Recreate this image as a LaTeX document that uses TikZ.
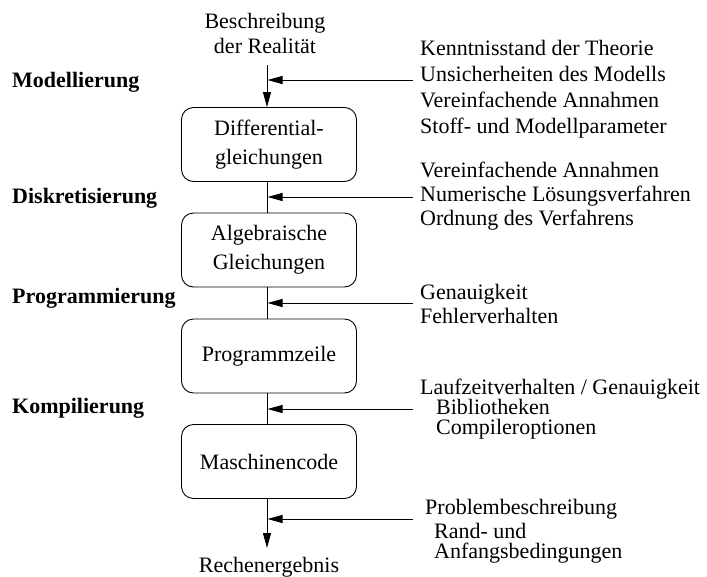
\documentclass[tikz,border=0pt]{standalone}
\usepackage{fontspec}
\setmainfont{Liberation Serif}
\usetikzlibrary{arrows.meta}
\begin{document}
\begin{tikzpicture}[x=1pt,y=-1pt]
\tikzset{
 proc/.style={draw, rounded corners=12pt, minimum width=175pt, minimum height=74pt, align=center, line width=0.9pt, inner sep=0pt, font=\fontsize{22}{29}\selectfont},
 txt/.style={anchor=base west, inner sep=0pt, font=\fontsize{22}{26}\selectfont},
 ctxt/.style={anchor=base, inner sep=0pt, font=\fontsize{22}{26}\selectfont},
 lbl/.style={anchor=base west, inner sep=0pt, font=\fontsize{22}{26}\selectfont\bfseries},
 flow/.style={line width=0.9pt},
 tip/.style={-{Triangle[length=15pt,width=8pt]}}
}
\useasboundingbox (0,0) rectangle (707,576);
% boxes
\node[proc] (b1) at (269,144.5) {Differential-\\gleichungen};
\node[proc] (b2) at (269,250) {Algebraische\\Gleichungen};
\node[proc] (b3) at (269,356) {Programmzeile};
\node[proc] (b4) at (269,461.5) {Maschinencode};
% top / bottom texts
\node[ctxt] (t1) at (265,28) {Beschreibung};
\node[ctxt] (t2) at (265,53) {der Realität};
\node[ctxt] (r) at (269,572) {Rechenergebnis};
% left labels
\node[lbl] (l1) at (12,87) {Modellierung};
\node[lbl] (l2) at (12,203) {Diskretisierung};
\node[lbl] (l3) at (12,303) {Programmierung};
\node[lbl] (l4) at (12,413) {Kompilierung};
% right texts
\node[txt] (a1) at (420,55) {Kenntnisstand der Theorie};
\node[txt] (a2) at (420,81.5) {Unsicherheiten des Modells};
\node[txt] (a3) at (420,107.5) {Vereinfachende Annahmen};
\node[txt] (a4) at (420,133.5) {Stoff- und Modellparameter};
\node[txt] (c1) at (420,177) {Vereinfachende Annahmen};
\node[txt] (c2) at (420,201.5) {Numerische Lösungsverfahren};
\node[txt] (c3) at (420,225.5) {Ordnung des Verfahrens};
\node[txt] (d1) at (420,299) {Genauigkeit};
\node[txt] (d2) at (420,323) {Fehlerverhalten};
\node[txt] (e1) at (420,394) {Laufzeitverhalten / Genauigkeit};
\node[txt] (e2) at (436,414) {Bibliotheken};
\node[txt] (e3) at (436,434) {Compileroptionen};
\node[txt] (f1) at (425,514) {Problembeschreibung};
\node[txt] (f2) at (434,538) {Rand- und};
\node[txt] (f3) at (434,558) {Anfangsbedingungen};
% flow line
\coordinate (s) at (267,65);
\coordinate (e) at (267,548);
\draw[flow,tip] (s) -- (s |- b1.north);
\draw[flow] (b1.south -| s) -- (b2.north -| s);
\draw[flow] (b2.south -| s) -- (b3.north -| s);
\draw[flow] (b3.south -| s) -- (b4.north -| s);
\draw[flow,tip] (b4.south -| s) -- (e);
% side inputs
\coordinate (h1) at (413,80);
\coordinate (h2) at (413,197);
\coordinate (h3) at (413,303);
\coordinate (h4) at (413,409);
\coordinate (h5) at (413,519);
\foreach \h in {h1,h2,h3,h4,h5}{
  \draw[flow,tip] (\h) -- ([xshift=0.5pt]\h -| s);
}
\end{tikzpicture}
\end{document}
